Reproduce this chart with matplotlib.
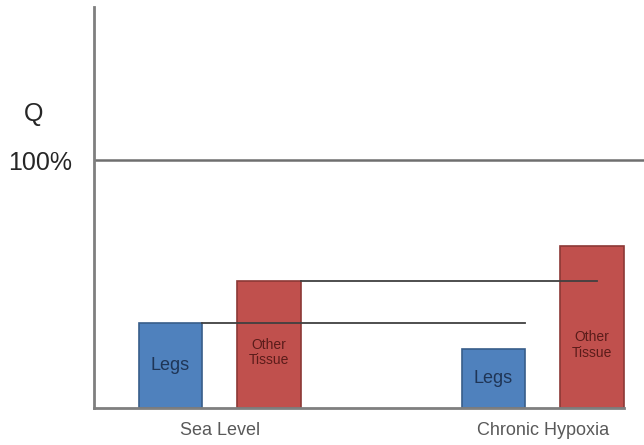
import matplotlib
matplotlib.use("Agg")
import matplotlib.pyplot as plt
import numpy as np

groups = ["Sea Level", "Chronic Hypoxia"]
legs = [34.3, 23.8]
other = [51.2, 65.3]
bar_labels = ["Legs", "Other\nTissue"]

plt.rcParams['font.family'] = ['Liberation Sans', 'DejaVu Sans']

fig = plt.figure(figsize=(6.44, 4.45), dpi=100)
ax = fig.add_axes([94/644, 37/445, 1 - 94/644, 1 - 37/445 - 7/445])

x = np.arange(len(groups))
off = 0.153
w = 0.196
blue, blue_e = "#4f81bd", "#385d8a"
red, red_e = "#c0504d", "#8c3836"

ax.bar(x - off, legs, w, color=blue, edgecolor=blue_e, linewidth=1.2, zorder=2)
ax.bar(x + off, other, w, color=red, edgecolor=red_e, linewidth=1.2, zorder=2)

# bar labels
for i in range(len(groups)):
    ax.text(x[i] - off, legs[i] / 2, bar_labels[0], ha="center", va="center",
            fontsize=13, color="#1f3556", zorder=4)
other_label_y = [22.2, 25.4]
for i in range(len(groups)):
    ax.text(x[i] + off, other_label_y[i], bar_labels[1], ha="center", va="center",
            fontsize=10, color="#5a1c1a", linespacing=1.1, zorder=4)

# 100% line
ax.axhline(100, color="#6f6f6f", lw=1.8, zorder=1)

# reference lines
ax.plot([x[0] - off + w / 2, x[1] - off + w / 2], [legs[0], legs[0]],
        color="#404040", lw=1.3, zorder=3)
ax.plot([x[0] + off + w / 2, x[1] + off + 0.015], [other[0], other[0]],
        color="#404040", lw=1.3, zorder=3)

ax.set_xlim(-0.389, 1.314)
ax.set_ylim(0, 161.7)

for s in ["top", "right"]:
    ax.spines[s].set_visible(False)
for s in ["left", "bottom"]:
    ax.spines[s].set_color("#7f7f7f")
    ax.spines[s].set_linewidth(2)
ax.spines["bottom"].set_bounds(-0.389, x[1] + off + w / 2)

ax.set_xticks(x)
ax.set_xticklabels(groups, fontsize=13, color="#595959")
ax.tick_params(axis="x", length=0, pad=10)
ax.set_yticks([100])
ax.set_yticklabels(["100%"], fontsize=18, color="#262626")
ax.tick_params(axis="y", length=0, pad=15.5)

fig.text(34/644, 1 - 114/445, "Q", ha="center", va="center", fontsize=18, color="#262626")

fig.savefig("out.png", dpi=100)
